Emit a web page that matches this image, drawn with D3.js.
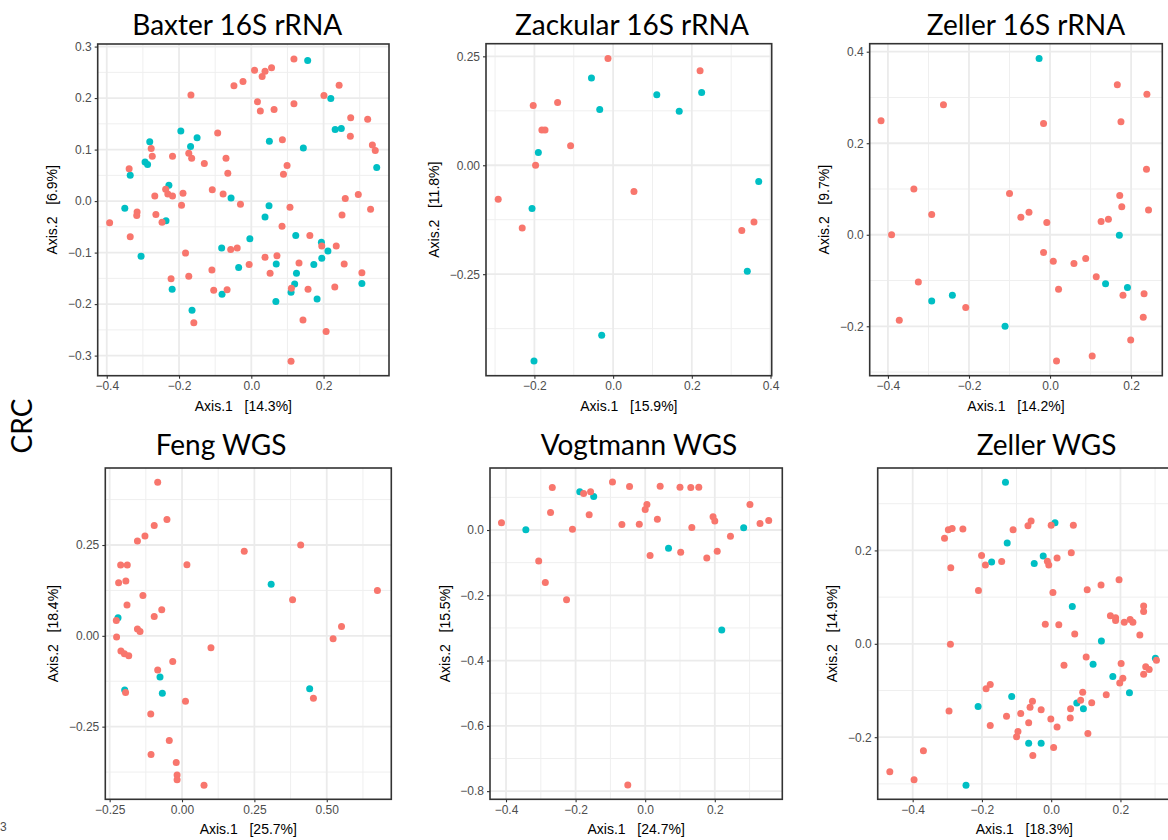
<!DOCTYPE html>
<html>
<head>
<meta charset="utf-8">
<script src="https://cdn.jsdelivr.net/npm/d3@7"></script>
<style>
  html, body { margin: 0; padding: 0; background: #ffffff; }
  svg { display: block; }
</style>
</head>
<body>
<svg id="chart" width="1168" height="840"></svg>
<script>
// ---------------- DATA ----------------
const panelTitles = ["Baxter 16S rRNA", "Zackular 16S rRNA", "Zeller 16S rRNA",
                     "Feng WGS", "Vogtmann WGS", "Zeller WGS"];
const axisXLabels = ["Axis.1   [14.3%]", "Axis.1   [15.9%]", "Axis.1   [14.2%]",
                     "Axis.1   [25.7%]", "Axis.1   [24.7%]", "Axis.1   [18.3%]"];
const axisYLabels = ["Axis.2   [6.9%]", "Axis.2   [11.8%]", "Axis.2   [9.7%]",
                     "Axis.2   [18.4%]", "Axis.2   [15.5%]", "Axis.2   [14.9%]"];
const rowLabel = "CRC";

const xTicks = [[-0.4,-0.2,0,0.2], [-0.2,0,0.2,0.4], [-0.4,-0.2,0,0.2],
                [-0.25,0,0.25,0.5], [-0.4,-0.2,0,0.2], [-0.4,-0.2,0,0.2]];
const yTicks = [[-0.3,-0.2,-0.1,0,0.1,0.2,0.3], [-0.25,0,0.25], [-0.2,0,0.2,0.4],
                [-0.25,0,0.25], [-0.8,-0.6,-0.4,-0.2,0], [-0.2,0,0.2]];
const xDecimals = [1, 1, 1, 2, 1, 1];
const yDecimals = [1, 2, 1, 2, 1, 1];
const xDomains = [[-0.425,0.381], [-0.323,0.403], [-0.445,0.277],
                  [-0.265,0.723], [-0.446,0.394], [-0.501,0.346]];
const yDomains = [[-0.339,0.305], [-0.483,0.279], [-0.308,0.4175],
                  [-0.450,0.462], [-0.825,0.190], [-0.333,0.3765]];

// Baxter 16S rRNA
const baxterRed = [[0.118,0.276],[0.009,0.254],[0.038,0.252],[0.056,0.259],[0.030,0.242],[-0.023,0.232],
 [-0.048,0.224],[-0.167,0.206],[0.017,0.193],[0.025,0.175],[0.063,0.178],[0.118,0.189],[0.243,0.225],
 [0.201,0.205],[0.275,0.162],[0.322,0.159],[0.274,0.126],[0.335,0.109],[0.343,0.098],[-0.093,0.132],
 [0.086,0.119],[-0.277,0.102],[-0.274,0.087],[-0.218,0.087],[-0.173,0.093],[-0.165,0.083],[-0.130,0.073],
 [-0.070,0.083],[0.099,0.069],[-0.065,0.054],[0.089,0.052],[-0.338,0.063],[-0.108,0.022],[-0.078,0.014],
 [-0.237,0.023],[-0.231,0.014],[-0.218,0.010],[-0.267,0.010],[-0.189,0.015],[-0.193,-0.008],[-0.030,-0.006],
 [0.107,-0.012],[0.260,0.005],[0.296,0.013],[0.330,-0.016],[0.251,-0.027],[-0.316,-0.021],[-0.317,-0.028],
 [-0.264,-0.026],[-0.247,-0.041],[-0.392,-0.042],[-0.335,-0.069],[0.085,-0.049],[0.162,-0.067],[0.195,-0.087],
 [0.235,-0.087],[-0.057,-0.094],[-0.039,-0.091],[-0.182,-0.101],[0.038,-0.109],[0.071,-0.106],[-0.006,-0.123],
 [0.132,-0.120],[0.257,-0.122],[-0.109,-0.134],[0.052,-0.140],[0.306,-0.139],[-0.173,-0.146],[-0.222,-0.151],
 [-0.104,-0.173],[-0.067,-0.172],[0.111,-0.169],[0.157,-0.171],[0.231,-0.167],[-0.159,-0.236],[0.143,-0.231],
 [0.207,-0.253],[0.110,-0.311]];
const baxterTeal = [[0.156,0.273],[0.220,0.199],[0.232,0.139],[0.249,0.141],[0.050,0.116],[0.144,0.103],
 [0.347,0.065],[-0.281,0.115],[-0.195,0.136],[-0.150,0.123],[-0.168,0.106],[-0.294,0.076],[-0.287,0.071],
 [-0.335,0.050],[-0.228,0.031],[-0.056,0.006],[0.049,-0.009],[0.038,-0.031],[-0.350,-0.014],[-0.236,-0.038],
 [-0.004,-0.073],[0.123,-0.067],[-0.082,-0.091],[0.194,-0.080],[0.212,-0.097],[0.195,-0.111],[-0.305,-0.107],
 [-0.035,-0.129],[0.069,-0.122],[0.173,-0.123],[0.125,-0.140],[0.120,-0.161],[0.110,-0.177],[0.306,-0.160],
 [-0.219,-0.171],[-0.081,-0.181],[0.068,-0.195],[0.182,-0.190],[-0.164,-0.212]];

// Zackular 16S rRNA
const zackularRed = [[-0.013,0.245],[0.221,0.217],[-0.203,0.137],[-0.141,0.144],[-0.181,0.081],[-0.173,0.081],
 [-0.108,0.045],[-0.197,0.000],[-0.292,-0.078],[-0.231,-0.144],[0.053,-0.060],[0.327,-0.150],[0.358,-0.130]];
const zackularTeal = [[-0.055,0.200],[-0.034,0.128],[0.111,0.162],[0.225,0.167],[0.168,0.124],[-0.190,0.029],
 [-0.206,-0.099],[0.370,-0.037],[0.341,-0.243],[-0.029,-0.390],[-0.201,-0.449]];

// Zeller 16S rRNA
const zeller16Red = [[0.166,0.328],[0.239,0.307],[-0.263,0.284],[-0.417,0.249],[-0.016,0.243],[0.175,0.247],
 [0.238,0.143],[-0.336,0.100],[-0.100,0.090],[0.172,0.086],[-0.292,0.044],[0.177,0.061],[0.243,0.054],
 [-0.072,0.038],[-0.052,0.049],[-0.008,0.027],[0.126,0.029],[0.144,0.034],[-0.391,0.000],[-0.016,-0.039],
 [0.008,-0.058],[0.059,-0.063],[0.088,-0.052],[0.114,-0.092],[-0.325,-0.103],[0.021,-0.119],[0.180,-0.132],
 [0.232,-0.129],[-0.208,-0.159],[-0.372,-0.187],[0.230,-0.180],[0.199,-0.230],[0.104,-0.265],[0.016,-0.276]];
const zeller16Teal = [[-0.027,0.385],[0.171,-0.001],[0.137,-0.107],[0.191,-0.115],[-0.241,-0.132],
 [-0.292,-0.145],[-0.111,-0.200]];

// Feng WGS
const fengRed = [[-0.084,0.423],[-0.052,0.320],[-0.096,0.304],[-0.128,0.275],[-0.154,0.261],[0.215,0.233],
 [0.410,0.250],[-0.212,0.195],[-0.189,0.195],[0.017,0.196],[-0.219,0.146],[-0.194,0.151],[-0.135,0.111],
 [0.675,0.125],[0.382,0.099],[-0.190,0.085],[-0.070,0.072],[-0.096,0.053],[-0.227,0.042],[-0.154,0.019],
 [-0.145,0.012],[0.551,0.026],[0.522,-0.008],[-0.226,-0.003],[0.100,-0.033],[-0.211,-0.042],[-0.199,-0.049],
 [-0.184,-0.055],[-0.032,-0.071],[-0.084,-0.094],[-0.195,-0.156],[0.012,-0.180],[0.454,-0.172],[-0.108,-0.215],
 [-0.044,-0.288],[-0.107,-0.327],[-0.020,-0.349],[-0.017,-0.383],[-0.017,-0.396],[0.076,-0.411]];
const fengTeal = [[0.308,0.142],[-0.221,0.050],[-0.076,-0.113],[-0.198,-0.149],[-0.068,-0.158],[0.441,-0.146]];

// Vogtmann WGS
const vogtmannRed = [[-0.413,0.022],[-0.267,0.130],[-0.272,0.054],[-0.177,0.112],[-0.157,0.117],[-0.161,0.047],
 [-0.209,0.002],[-0.094,0.147],[-0.045,0.133],[-0.067,0.017],[-0.017,0.018],[0.005,0.078],[0.000,0.063],
 [0.035,0.033],[0.043,0.134],[0.100,0.131],[0.131,0.130],[0.154,0.131],[0.134,0.008],[0.195,0.041],
 [0.200,0.028],[0.301,0.078],[0.330,0.020],[0.355,0.029],[0.245,-0.019],[0.207,-0.065],[0.177,-0.086],
 [0.102,-0.068],[0.014,-0.078],[-0.306,-0.095],[-0.287,-0.161],[-0.226,-0.214],[-0.050,-0.781]];
const vogtmannTeal = [[-0.343,0.001],[-0.188,0.117],[-0.148,0.103],[0.067,-0.056],[0.283,0.007],[0.220,-0.306]];

// Zeller WGS
const zellerWgsRed = [[-0.466,-0.274],[-0.396,-0.291],[-0.369,-0.229],[-0.308,0.226],[-0.297,0.244],
 [-0.286,0.247],[-0.255,0.246],[-0.290,0.163],[-0.291,-0.001],[-0.295,-0.144],[-0.201,0.189],[-0.190,0.169],
 [-0.143,0.176],[-0.210,0.114],[-0.110,0.244],[-0.067,0.253],[-0.058,0.263],[0.000,0.254],[0.064,0.254],
 [-0.011,0.177],[-0.007,0.169],[0.017,0.184],[0.058,0.195],[0.005,0.110],[0.104,0.116],[0.144,0.126],
 [0.196,0.137],[-0.017,0.042],[0.022,0.041],[0.068,0.021],[0.171,0.060],[0.186,0.056],[0.186,0.050],
 [0.211,0.046],[0.228,0.052],[0.236,0.046],[0.256,0.019],[0.267,0.081],[0.267,0.069],[0.101,-0.028],
 [0.037,-0.046],[0.202,-0.042],[0.207,-0.074],[0.198,-0.084],[0.267,-0.065],[0.273,-0.049],[0.283,-0.055],
 [0.304,-0.035],[-0.188,-0.096],[-0.176,-0.087],[-0.176,-0.175],[-0.129,-0.155],[-0.088,-0.149],
 [-0.061,-0.136],[-0.054,-0.123],[-0.029,-0.141],[-0.065,-0.169],[-0.096,-0.188],[-0.100,-0.199],
 [-0.001,-0.161],[0.017,-0.178],[0.007,-0.222],[-0.053,-0.239],[0.056,-0.139],[0.055,-0.159],[0.085,-0.121],
 [0.091,-0.104],[0.117,-0.126],[0.106,-0.192],[0.159,-0.109]];
const zellerWgsTeal = [[-0.132,0.346],[-0.127,0.216],[-0.172,0.175],[-0.049,0.172],[-0.023,0.188],[0.011,0.259],
 [0.061,0.080],[0.145,0.006],[0.121,-0.044],[0.178,-0.070],[0.226,-0.105],[0.301,-0.031],[-0.211,-0.134],
 [-0.114,-0.113],[0.074,-0.127],[0.093,-0.139],[-0.065,-0.213],[-0.029,-0.213],[-0.246,-0.303]];

const redSeries  = [baxterRed, zackularRed, zeller16Red, fengRed, vogtmannRed, zellerWgsRed];
const tealSeries = [baxterTeal, zackularTeal, zeller16Teal, fengTeal, vogtmannTeal, zellerWgsTeal];

// ---------------- LAYOUT ----------------
const plotRects = [
  {l: 97.7, t: 44,   r: 389,    b: 375.7},
  {l: 486,  t: 43.7, r: 771.7,  b: 375.7},
  {l: 869.7,t: 43.7, r: 1162.3, b: 375.7},
  {l: 105.3,t: 468,  r: 391.3,  b: 799.3},
  {l: 490,  t: 468,  r: 782.3,  b: 799.3},
  {l: 877.7,t: 468,  r: 1171,   b: 799.3}
];
const titlePos = [[237.3,35],[632,35],[1026,35],[221,455],[639,455],[1046.5,455]];

const RED = "#F8766D", TEAL = "#00BFC4";
const AXFONT = "'Liberation Sans', Arial, Helvetica, sans-serif";
const TITLEFONT = "Lato, 'Open Sans', sans-serif";
const svg = d3.select("#chart");
const fmtMinus = (dec) => (v) => d3.format("." + dec + "f")(v).replace("-", "\u2212");

function minorBreaks(majors, domain) {
  const step = majors[1] - majors[0];
  const out = [];
  for (let i = -1; i < majors.length; i++) {
    const v = (i < 0 ? majors[0] - step : majors[i]) + step / 2;
    if (v > domain[0] && v < domain[1]) out.push(v);
  }
  return out;
}

panelTitles.forEach((title, i) => {
  const R = plotRects[i];
  const x = d3.scaleLinear().domain(xDomains[i]).range([R.l, R.r]);
  const y = d3.scaleLinear().domain(yDomains[i]).range([R.b, R.t]);
  const g = svg.append("g");

  g.append("rect").attr("x", R.l).attr("y", R.t).attr("width", R.r - R.l).attr("height", R.b - R.t)
    .attr("fill", "#ffffff");

  // minor grid
  const gxMin = minorBreaks(xTicks[i], xDomains[i]);
  const gyMin = minorBreaks(yTicks[i], yDomains[i]);
  g.selectAll(null).data(gxMin).enter().append("line")
    .attr("x1", d => x(d)).attr("x2", d => x(d)).attr("y1", R.t).attr("y2", R.b)
    .attr("stroke", "#EFEFEF").attr("stroke-width", 1);
  g.selectAll(null).data(gyMin).enter().append("line")
    .attr("y1", d => y(d)).attr("y2", d => y(d)).attr("x1", R.l).attr("x2", R.r)
    .attr("stroke", "#EFEFEF").attr("stroke-width", 1);
  // major grid
  g.selectAll(null).data(xTicks[i]).enter().append("line")
    .attr("x1", d => x(d)).attr("x2", d => x(d)).attr("y1", R.t).attr("y2", R.b)
    .attr("stroke", "#EBEBEB").attr("stroke-width", 1.8);
  g.selectAll(null).data(yTicks[i]).enter().append("line")
    .attr("y1", d => y(d)).attr("y2", d => y(d)).attr("x1", R.l).attr("x2", R.r)
    .attr("stroke", "#EBEBEB").attr("stroke-width", 1.8);

  // points: teal first, red on top
  g.selectAll(null).data(tealSeries[i]).enter().append("circle")
    .attr("cx", d => x(d[0])).attr("cy", d => y(d[1])).attr("r", 3.5).attr("fill", TEAL);
  g.selectAll(null).data(redSeries[i]).enter().append("circle")
    .attr("cx", d => x(d[0])).attr("cy", d => y(d[1])).attr("r", 3.5).attr("fill", RED);

  // axes
  const xAxis = d3.axisBottom(x).tickValues(xTicks[i]).tickFormat(fmtMinus(xDecimals[i]))
    .tickSizeInner(3).tickSizeOuter(0).tickPadding(3);
  const yAxis = d3.axisLeft(y).tickValues(yTicks[i]).tickFormat(fmtMinus(yDecimals[i]))
    .tickSizeInner(3).tickSizeOuter(0).tickPadding(3);
  const gx = g.append("g").attr("transform", `translate(0,${R.b})`).call(xAxis);
  const gy = g.append("g").attr("transform", `translate(${R.l},0)`).call(yAxis);
  [gx, gy].forEach(a => {
    a.select(".domain").remove();
    a.selectAll(".tick line").attr("stroke", "#333333").attr("stroke-width", 1.1);
    a.selectAll(".tick text").attr("fill", "#4D4D4D")
      .style("font-family", AXFONT).style("font-size", "12px");
  });

  // border
  g.append("rect").attr("x", R.l).attr("y", R.t).attr("width", R.r - R.l).attr("height", R.b - R.t)
    .attr("fill", "none").attr("stroke", "#333333").attr("stroke-width", 1.6);

  // axis titles
  g.append("text").attr("x", (R.l + R.r) / 2).attr("y", R.b + 35)
    .attr("text-anchor", "middle").attr("xml:space", "preserve").style("white-space", "pre")
    .style("font-family", AXFONT).style("font-size", "14px")
    .attr("fill", "#000000").text(axisXLabels[i]);

  const bb = gy.node().getBBox();
  const ytx = R.l + bb.x - 10.5;
  g.append("text").attr("transform", `translate(${ytx},${(R.t + R.b) / 2}) rotate(-90)`)
    .attr("text-anchor", "middle").attr("xml:space", "preserve").style("white-space", "pre")
    .style("font-family", AXFONT).style("font-size", "14px")
    .attr("fill", "#000000").text(axisYLabels[i]);

  // panel title
  svg.append("text").attr("x", titlePos[i][0]).attr("y", titlePos[i][1])
    .attr("text-anchor", "middle")
    .style("font-family", TITLEFONT).style("font-size", "28px")
    .attr("fill", "#000000").text(title);
});

// row label
svg.append("text").attr("transform", "translate(32,426) rotate(-90)")
  .attr("text-anchor", "middle")
  .style("font-family", TITLEFONT).style("font-size", "28px")
  .attr("fill", "#000000").text(rowLabel);

// stray clipped tick label at bottom-left of the source figure
svg.append("text").attr("x", 0).attr("y", 831)
  .style("font-family", AXFONT).style("font-size", "12px")
  .attr("fill", "#4D4D4D").text("3");
</script>
</body>
</html>
